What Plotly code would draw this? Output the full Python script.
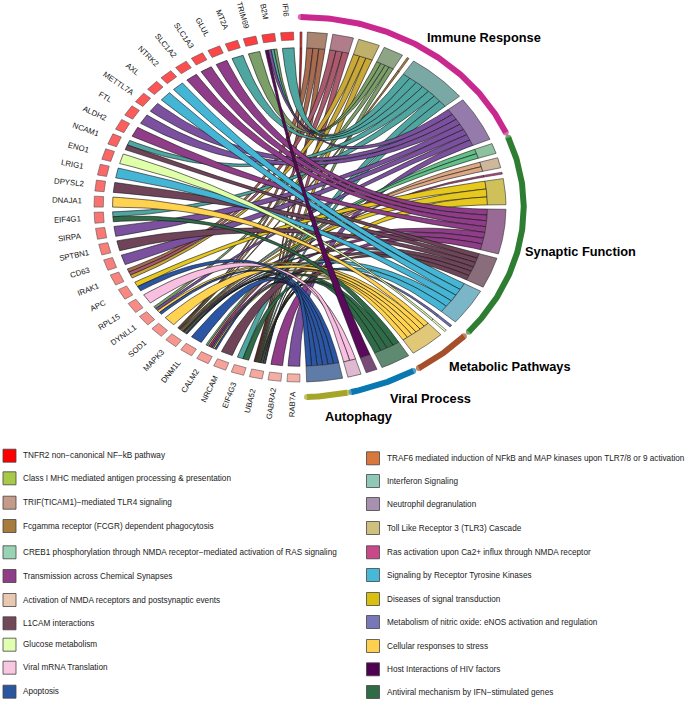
import math
import plotly.graph_objects as go

genes = ["IFI6","B2M","TRIM69","MT2A","GLUL","SLC1A3","SLC1A2","NTRK2","AXL","METTL7A","FTL","ALDH2",
         "NCAM1","ENO1","LRIG1","DPYSL2","DNAJA1","EIF4G1","SIRPA","SPTBN1","CD63","IRAK1","APC","RPL15",
         "DYNLL1","SOD1","MAPK3","DNM1L","CALM2","NRCAM","EIF4G3","UBA52","GABRA2","RAB7A"]

terms = ["TNFR2","TRAF6","TRIF","TLR3","ClassI","Fc","IFN","Neutrophil","CREB1","NMDA","Ras","Diseases",
         "Transmission","L1CAM","RTK","NO","Glucose","Stress","Antiviral","HIV","Viral","Apoptosis"]
term_sizes = [0.55,5.6,5.9,6.1,5.7,0.6,17.3,15.0,3.4,3.4,0.6,8.6,14.8,10.2,12.3,0.7,0.6,9.8,8.4,3.2,3.8,10.1]
term_fill = ["#e23030","#ab8470","#b27d8a","#bfb06a","#8da584","#a57c3c","#7aa9a5","#947bab","#8cc29e","#cfb79b",
             "#c04080","#cfc05a","#9a6a96","#8a6d7a","#7ab5c8","#6a6ab5","#e8ffb8","#e0c878","#5f8a72","#7a4a78",
             "#e0b8d0","#5f7ba8"]
link_fill = ["#e02020","#a86a50","#ab5a6e","#c9a838","#7c9f6a","#a57c3c","#4fa5a0","#7b519f","#62bf88","#dca884",
             "#c04080","#e6c81e","#8f3d88","#6f4459","#45b5d5","#6a6ab5","#dfffa8","#ffd24f","#2f6b47","#5a0a5a",
             "#f8bfe0","#2a56a5"]
term_genes = {
 "TNFR2":["UBA52"],
 "TRAF6":["IRAK1","MAPK3","UBA52"],
 "TRIF":["IRAK1","MAPK3","UBA52"],
 "TLR3":["IRAK1","MAPK3","UBA52"],
 "ClassI":["B2M","TRIM69","DYNLL1","UBA52"],
 "Fc":["MAPK3"],
 "IFN":["IFI6","B2M","MT2A","NCAM1","EIF4G1","EIF4G3","UBA52"],
 "Neutrophil":["B2M","METTL7A","FTL","SIRPA","CD63","DYNLL1","RAB7A"],
 "CREB1":["CALM2","MAPK3"],
 "NMDA":["CALM2","MAPK3"],
 "Ras":["CALM2"],
 "Diseases":["APC","MAPK3","UBA52"],
 "Transmission":["GLUL","SLC1A3","SLC1A2","ALDH2","MAPK3","CALM2","GABRA2"],
 "L1CAM":["NCAM1","DPYSL2","SPTBN1","MAPK3","NRCAM","UBA52"],
 "RTK":["NTRK2","AXL","LRIG1","MAPK3","UBA52"],
 "NO":["CALM2"],
 "Glucose":["ENO1"],
 "Stress":["DNAJA1","DYNLL1","SOD1","MAPK3","CALM2","UBA52"],
 "Antiviral":["EIF4G1","MAPK3","EIF4G3","UBA52"],
 "HIV":["B2M"],
 "Viral":["RPL15","UBA52"],
 "Apoptosis":["APC","DYNLL1","MAPK3","DNM1L","CALM2","UBA52"],
}
groups = ["Immune Response","Synaptic Function","Metabolic Pathways","Viral Process","Autophagy"]
group_colors = ["#c9298f","#2e7d32","#a5502a","#0a78b0","#a5a52a"]
group_spans = [(0.2,66.9),(68.6,131.0),(132.9,147.9),(149.6,166.7),(167.9,178.2)]
group_label_px = [(484,37),(580,251),(510,366),(430,398),(359,416)]

legend_left = ["TNFR2 non\u2212canonical NF\u2212kB pathway","Class I MHC mediated antigen processing & presentation",
 "TRIF(TICAM1)\u2212mediated TLR4 signaling","Fcgamma receptor (FCGR) dependent phagocytosis",
 "CREB1 phosphorylation through NMDA receptor\u2212mediated activation of RAS signaling",
 "Transmission across Chemical Synapses","Activation of NMDA receptors and postsynaptic events",
 "L1CAM interactions","Glucose metabolism","Viral mRNA Translation","Apoptosis"]
legend_left_col = ["#ff0000","#a8c848","#c49a88","#a87c3c","#98d4b4","#8f3d88","#e8c8b0","#704858","#e0ffb0","#f8c8e0","#2a56a0"]
legend_right = ["TRAF6 mediated induction of NFkB and MAP kinases upon TLR7/8 or 9 activation","Interferon Signaling",
 "Neutrophil degranulation","Toll Like Receptor 3 (TLR3) Cascade","Ras activation upon Ca2+ influx through NMDA receptor",
 "Signaling by Receptor Tyrosine Kinases","Diseases of signal transduction",
 "Metabolism of nitric oxide: eNOS activation and regulation","Cellular responses to stress",
 "Host Interactions of HIV factors","Antiviral mechanism by IFN\u2212stimulated genes"]
legend_right_col = ["#d8783c","#90c8b8","#a890b0","#d0c080","#c84888","#48b8d8","#d8c010","#7878b8","#ffd050","#500050","#2f6b47"]
legend_left_y = [455.7,478.3,502.7,526,552.3,576,600,623.3,644.7,667.7,691.7]
legend_right_y = [458.3,481,504,528,552.3,575,599,622,646,669.3,692]

# layout geometry
W, H = 685, 701
CX, CY, RX, RY = 300, 207, 206, 175
R_IN, R_TERM_OUT, R_GENE_IN = 0.91, 1.0, 0.955
R_ARC = 1.086
R_LABEL = 1.13
GAP = 1.5
G_FIRST, G_STEP, G_WIDTH = -3.6, -5.29, 3.6

def px(x, y):
    return (x - CX) / RX, (CY - y) / RY
def pol(deg, r):
    a = math.radians(deg)
    return r * math.sin(a), r * math.cos(a)
def arc(a, b, r, n=None):
    n = n or max(2, int(abs(b - a) / 0.5) + 2)
    return [pol(a + (b - a) * i / (n - 1), r) for i in range(n)]
def bez(p0, p1, n=50):
    out = []
    for i in range(n + 1):
        t = i / n
        k = (1 - t) ** 2, t ** 2
        out.append((k[0] * p0[0] + k[1] * p1[0], k[0] * p0[1] + k[1] * p1[1]))
    return out

fig = go.Figure()
def poly(pts, fill, lw=0.5, lc="#222222"):
    pts = pts + [pts[0]]
    fig.add_trace(go.Scatter(x=[p[0] for p in pts], y=[p[1] for p in pts], mode="lines", fill="toself",
                             fillcolor=fill, line=dict(color=lc, width=lw), hoverinfo="skip", showlegend=False))

# term sector angles
term_span = {}
a = 0.0
for t, s in zip(terms, term_sizes):
    term_span[t] = (a, a + s)
    a += s + GAP

# gene-side sub-slices
gene_links = {g: [t for t in terms if g in term_genes[t]] for g in genes}
links = []
for t, tf in zip(terms, link_fill):
    a0, a1 = term_span[t]
    gl = term_genes[t]
    ts = (a1 - a0) / len(gl)
    for k, g in enumerate(gl):
        i = genes.index(g)
        c = G_FIRST + G_STEP * i
        lst = gene_links[g]
        j = lst.index(t)
        gs = G_WIDTH / len(lst)
        # moving away from the top along the gene = later term
        g_hi = c + G_WIDTH / 2 - gs * j
        g_lo = g_hi - gs
        links.append((a0 + ts * k, a0 + ts * (k + 1), g_lo, g_hi, tf))

for ta, tb, g_lo, g_hi, col in links:
    pts = arc(ta, tb, R_IN) + bez(pol(tb, R_IN), pol(g_lo, R_IN)) + arc(g_lo, g_hi, R_IN) + bez(pol(g_hi, R_IN), pol(ta, R_IN))
    poly(pts, col, 0.6, "#111111")

# term sectors
for t, col in zip(terms, term_fill):
    a0, a1 = term_span[t]
    poly(arc(a0, a1, R_TERM_OUT) + arc(a1, a0, R_IN), col, 0.6, "#333333")

# gene boxes, fading red -> salmon
n = len(genes)
for i, g in enumerate(genes):
    c = G_FIRST + G_STEP * i
    f = i / (n - 1)
    col = "rgb(%d,%d,%d)" % (255 - 10 * f, 56 + 120 * f, 60 + 106 * f)
    poly(arc(c - G_WIDTH / 2, c + G_WIDTH / 2, R_TERM_OUT, 6) + arc(c + G_WIDTH / 2, c - G_WIDTH / 2, R_GENE_IN, 6), col, 0.6, "#555555")

# group arcs
for (a0, a1), col in zip(group_spans, group_colors):
    pts = arc(a0, a1, R_ARC)
    sizes = [6] + [0] * (len(pts) - 2) + [6]
    fig.add_trace(go.Scatter(x=[p[0] for p in pts], y=[p[1] for p in pts], mode="lines+markers",
                             line=dict(color=col, width=6),
                             marker=dict(size=sizes, color=col, line=dict(width=0)),
                             hoverinfo="skip", showlegend=False))

ann = []
for name, (x, y) in zip(groups, group_label_px):
    ux, uy = px(x, y)
    ann.append(dict(x=ux, y=uy, text="<b>%s</b>" % name, showarrow=False, xanchor="center", yanchor="middle",
                    font=dict(family="Liberation Sans", size=12.8, color="black")))

# gene labels: centred on one radius, reading inward
FS = 7.8
for i, g in enumerate(genes):
    deg = G_FIRST + G_STEP * i
    s, c = math.sin(math.radians(deg)), math.cos(math.radians(deg))
    ang = math.degrees(math.atan2(c * RY, -s * RX))
    xc, yc = pol(deg, R_LABEL)
    ann.append(dict(x=xc, y=yc, text=g, textangle=ang, showarrow=False, xanchor="center", yanchor="middle",
                    font=dict(family="Liberation Sans", size=FS, color="#111111")))

# legend
def legend(labels, cols, ys, sx, tx):
    xs = []; yv = []
    for lab, yy in zip(labels, ys):
        ux, uy = px(tx, yy)
        ann.append(dict(x=ux, y=uy, text=lab, showarrow=False, xanchor="left", yanchor="middle",
                        font=dict(family="Liberation Sans", size=8.2, color="#222222")))
        xs.append(px(sx, yy)[0]); yv.append(uy)
    fig.add_trace(go.Scatter(x=xs, y=yv, mode="markers", hoverinfo="skip", showlegend=False,
                             marker=dict(symbol="square", size=13, color=cols, line=dict(color="#444444", width=0.8))))
legend(legend_left, legend_left_col, legend_left_y, 9.5, 21)
legend(legend_right, legend_right_col, legend_right_y, 373, 385)

fig.update_layout(width=W, height=H, margin=dict(l=0, r=0, t=0, b=0), paper_bgcolor="white", plot_bgcolor="white",
                  showlegend=False, annotations=ann,
                  xaxis=dict(visible=False, range=[px(0, 0)[0], px(W, 0)[0]], fixedrange=True),
                  yaxis=dict(visible=False, range=[px(0, H)[1], px(0, 0)[1]], fixedrange=True))
fig.write_html("out.html", config=dict(displayModeBar=False),
               post_script="document.body.style.margin='0';document.documentElement.style.overflow='hidden';")
